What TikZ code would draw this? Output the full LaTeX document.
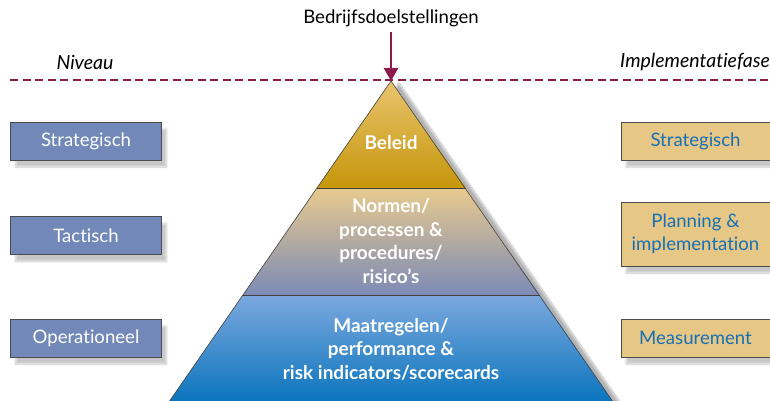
\documentclass[tikz,border=0pt]{standalone}
\usepackage{fontspec}
\setmainfont{Lato}[Ligatures=NoCommon]
\usetikzlibrary{shadows.blur,arrows.meta}

\definecolor{wine}{RGB}{140,26,72}
\definecolor{slate}{RGB}{114,136,184}
\definecolor{sand}{RGB}{230,199,133}
\definecolor{ink}{RGB}{22,112,184}
\definecolor{goldtop}{RGB}{232,196,110}
\definecolor{goldbot}{RGB}{198,150,10}
\definecolor{midtop}{RGB}{232,202,142}
\definecolor{midbot}{RGB}{124,138,182}
\definecolor{bluetop}{RGB}{124,168,222}
\definecolor{bluebot}{RGB}{0,112,186}

\begin{document}
\begin{tikzpicture}[x=1pt,y=-1pt]
\tikzstyle{every node}+=[inner sep=0pt]
\tikzstyle{softshadow}=[blur shadow={shadow xshift=5pt, shadow yshift=-7pt, shadow blur steps=10, shadow opacity=22}]
\tikzstyle{niveau}=[draw=black!70, line width=0.6pt, fill=slate, text=white, minimum width=151pt, minimum height=38pt, font=\fontsize{18.6}{20}\selectfont, softshadow]
\tikzstyle{fase}=[niveau, fill=sand, text=ink, minimum width=149pt, align=center]
\tikzstyle{laag}=[text=white, align=center, font=\fontsize{19}{23.6}\selectfont\bfseries]
\tikzstyle{kop}=[font=\fontsize{19.5}{20}\selectfont\itshape]
\useasboundingbox (0,0) rectangle (770,401);

% pyramid corners
\coordinate (top) at (391,81);
\coordinate (a1) at (317,188);
\coordinate (b1) at (466,188);
\coordinate (a2) at (243,295);
\coordinate (b2) at (540,295);
\coordinate (a3) at (162,412);
\coordinate (b3) at (620,412);

% pyramid body with its shadow
\fill [white, blur shadow={shadow xshift=8pt, shadow yshift=-2pt, shadow blur steps=14, shadow opacity=30}] (top) -- (b3) -- (a3) -- cycle;
\shade [top color=goldtop, bottom color=goldbot] (top) -- (b1) -- (a1) -- cycle;
\shade [top color=midtop, bottom color=midbot] (a1) -- (b1) -- (b2) -- (a2) -- cycle;
\shade [top color=bluetop, bottom color=bluebot] (a2) -- (b2) -- (b3) -- (a3) -- cycle;
\draw [black!75, line width=0.6pt] (a3) -- (top) -- (b3);
\draw [black!75, line width=0.6pt] (a1) -- (b1);
\draw [black!75, line width=0.6pt] (a2) -- (b2);

\node [laag] (beleid) at (391,143) {Beleid};
\node [laag] (normen) at (391,241) {Normen/\\processen \&\\procedures/\\risico’s};
\node [laag] (maatregelen) at (391,349) {Maatregelen/\\performance \&\\risk indicators/scorecards};

% goal line and arrow
\coordinate (links) at (10,80);
\coordinate (rechts) at (770,80);
\draw [wine, line width=1.6pt, dash pattern=on 8pt off 4.5pt] (links) -- (rechts);
\node [font=\fontsize{18.6}{20}\selectfont] (doel) at (391,18) {Bedrijfsdoelstellingen};
\draw [wine, line width=2.6pt, -{Triangle[width=14pt,length=13pt]}, shorten <=5pt] (doel.south) -- (top);

\node [kop] (niveaukop) at (85,62) {Niveau};
\node [kop, anchor=east] (fasekop) at (770,62) {Implementatiefase};

% left column
\node [niveau] (strat) at (86,141) {Strategisch};
\node [niveau] (tact) at (86,235.5) {Tactisch};
\node [niveau] (oper) at (86,338) {Operationeel};

% right column
\node [fase] (fstrat) at (695.5,141) {Strategisch};
\node [fase, minimum height=64pt, font=\fontsize{18.6}{23}\selectfont] (fplan) at (695.5,234) {Planning \&\\implementation};
\node [fase] (fmeet) at (695.5,338) {Measurement};
\end{tikzpicture}
\end{document}
